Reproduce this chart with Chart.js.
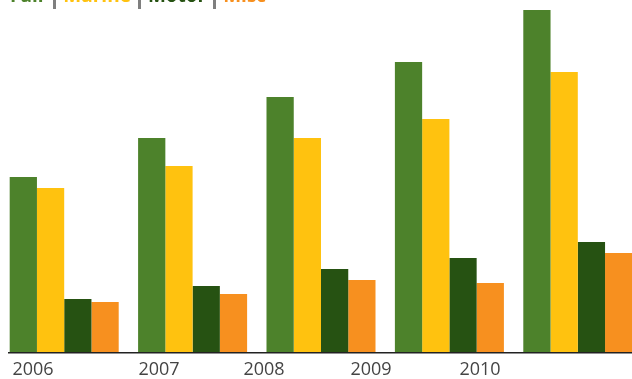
<!DOCTYPE html>
<html>
<head>
<meta charset="utf-8">
<script src="https://cdn.jsdelivr.net/npm/chart.js@4.4.1/dist/chart.umd.min.js"></script>
<style>
  html, body { margin: 0; padding: 0; background: #fff; overflow: hidden; width: 632px; height: 379px; }
  #wrap { position: absolute; left: 0; top: 0; width: 642px; height: 379px; }
  #legend { position: absolute; left: 10px; top: -15px; font: bold 19px "Open Sans", sans-serif; line-height: 20px; white-space: nowrap; }
  #legend .sep { display: inline-block; width: 3px; height: 22px; background: #7f7f7f; margin: 0 7px; vertical-align: -7px; }
</style>
</head>
<body>
<div id="wrap"><canvas id="chart"></canvas></div>
<div id="legend"></div>
<script>
// -- dados --
const anos = ['2006', '2007', '2008', '2009', '2010'];
const fair = [175, 214, 255, 290, 342];
const marine = [164, 186, 214, 233, 280];
const motor = [53, 66, 83, 94, 110];
const misc = [50, 58, 72, 69, 99];

const nomes = ['Fair', 'Marine', 'Motor', 'Misc'];
const cores = ['#4d822b', '#ffc20f', '#265212', '#f7901f'];
// posição dos rótulos dos anos (como no original, não centrados nos grupos)
const posRotulos = [33, 159, 264, 371, 480];

// legenda no topo (cortada)
const legend = document.getElementById('legend');
legend.innerHTML = nomes.map((n, i) =>
  `<span style="color:${cores[i]}">${n}</span>`
).join('<span class="sep"></span>');

const linhaBase = {
  id: 'linhaBase',
  afterDatasetsDraw(chart) {
    const { ctx, chartArea } = chart;
    ctx.save();
    ctx.strokeStyle = '#222';
    ctx.lineWidth = 1.5;
    ctx.beginPath();
    ctx.moveTo(8, chartArea.bottom + 0.75);
    ctx.lineTo(chart.width, chartArea.bottom + 0.75);
    ctx.stroke();
    ctx.restore();
  }
};

const ctx = document.getElementById('chart').getContext('2d');
new Chart(ctx, {
  type: 'bar',
  data: {
    labels: anos,
    datasets: [
      { label: nomes[0], data: fair, backgroundColor: cores[0] },
      { label: nomes[1], data: marine, backgroundColor: cores[1] },
      { label: nomes[2], data: motor, backgroundColor: cores[2] },
      { label: nomes[3], data: misc, backgroundColor: cores[3] }
    ]
  },
  options: {
    responsive: true,
    maintainAspectRatio: false,
    animation: false,
    layout: { padding: 0 },
    categoryPercentage: 0.849,
    barPercentage: 1,
    plugins: { legend: { display: false }, tooltip: { enabled: false } },
    scales: {
      x: { display: false },
      x2: {
        type: 'linear',
        position: 'bottom',
        offset: false,
        min: 0,
        max: 642,
        afterBuildTicks: scale => { scale.ticks = posRotulos.map(v => ({ value: v })); },
        afterFit: scale => { scale.height = 27; },
        grid: { display: false, drawTicks: false },
        border: { display: false },
        ticks: {
          autoSkip: false,
          maxRotation: 0,
          padding: 7,
          color: '#444',
          font: { family: 'Open Sans', size: 18 },
          callback: (v, i) => anos[i]
        }
      },
      y: { display: false, min: 0, max: 352 }
    }
  },
  plugins: [linhaBase]
});
</script>
</body>
</html>
